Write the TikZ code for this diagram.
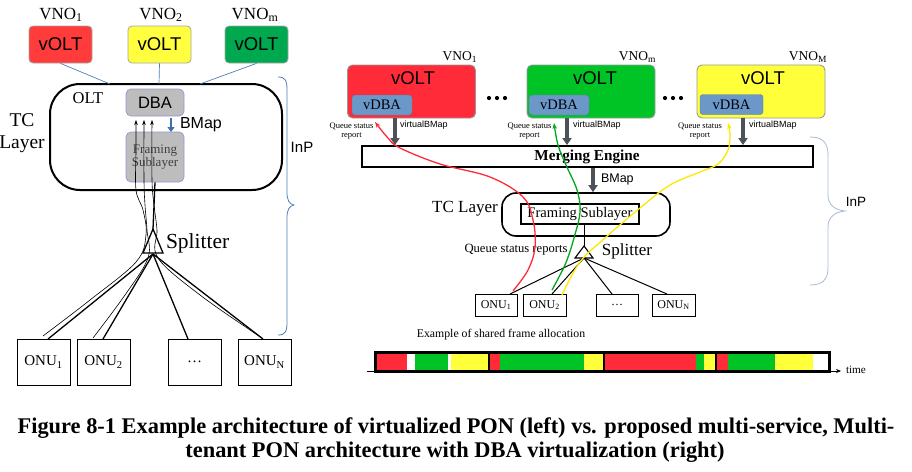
\documentclass[tikz,border=0pt]{standalone}
\usepackage{fontspec}
\setmainfont{Liberation Serif}
\setsansfont{Liberation Sans}
\usetikzlibrary{arrows.meta}
\definecolor{lred}{HTML}{FF3B3B}
\definecolor{lyel}{HTML}{FFFF40}
\definecolor{lgrn}{HTML}{00A84F}
\definecolor{rred}{HTML}{FF2B38}
\definecolor{rgrn}{HTML}{00C425}
\definecolor{ryel}{HTML}{FFFF3A}
\definecolor{vdba}{HTML}{6B97C9}
\definecolor{dbagray}{HTML}{BDBDBD}
\definecolor{dgray}{HTML}{4D5259}
\definecolor{bline}{HTML}{4F7FB5}
\definecolor{lbrace}{HTML}{A9BAD8}
\definecolor{bmapblue}{HTML}{3F6FA8}
\newcommand\fs[1]{\fontsize{#1}{#1}\selectfont}
\newcommand\sbs[1]{\textsubscript{#1}}
\begin{document}
\begin{tikzpicture}[x=1pt,y=-1pt,
  txt/.style={inner sep=0pt,outer sep=0pt},
  voltl/.style={draw=gray!70,line width=0.8pt,rounded corners=4pt,minimum width=63pt,minimum height=37pt,inner sep=0pt,font=\sffamily\fs{18.5}},
  voltr/.style={draw=gray!80,line width=0.9pt,rounded corners=5pt,minimum width=128pt,minimum height=53pt,inner sep=0pt},
  vdbabox/.style={draw=vdba!80!black,line width=0.4pt,fill=vdba,rounded corners=3pt,minimum width=60pt,minimum height=20pt,inner sep=0pt,font=\fs{14.5}},
  onubox/.style={draw,line width=0.6pt,inner sep=0pt},
  gbox/.style={draw=gray!60!blue!60,line width=0.7pt,fill=dbagray,rounded corners=5pt,minimum width=58pt,inner sep=0pt},
  garrow/.style={draw=dgray,line width=3.5pt,-{Triangle[length=7pt,width=9pt]}},
  thinarr/.style={line width=0.6pt,-{Stealth[length=5pt,width=3.5pt]}},
  colarr/.style={line width=1.3pt,-{Stealth[length=6pt,width=4.5pt]}},
  fiber/.style={line width=1.3pt}
]
\useasboundingbox (0,0) rectangle (912,471);

%%%%%%%%%%%%%%%% LEFT %%%%%%%%%%%%%%%%
\node[txt,font=\fs{17}] (lv1) at (61,15) {VNO\sbs{1}};
\node[txt,font=\fs{17}] (lv2) at (161,15) {VNO\sbs{2}};
\node[txt,font=\fs{17}] (lvm) at (255,15) {VNO\sbs{m}};
\node[voltl,fill=lred] (lr) at (60.5,44.5) {vOLT};
\node[voltl,fill=lyel] (ly) at (159.5,44.5) {vOLT};
\node[voltl,fill=lgrn] (lg) at (256.5,44.5) {vOLT};

\node[draw,line width=2pt,rounded corners=30pt,minimum width=232pt,minimum height=106pt,inner sep=0pt] (olt) at (166,137) {};
\coordinate (o1) at (110,84);
\coordinate (o2) at (159,84);
\coordinate (o3) at (200,84);
\draw[bline,line width=0.7pt] (lr.south) -- (o1);
\draw[bline,line width=0.7pt] (ly.south) -- (o2);
\draw[bline,line width=0.7pt] (lg.south) -- (o3);

\node[txt,font=\fs{16.5}] (oltt) at (88,98) {OLT};
\node[txt,font=\fs{19.5},align=center] (tcl) at (22,133) {TC\\[2pt]Layer};

\node[gbox,minimum height=27pt,font=\sffamily\fs{16.5}] (dba) at (155,102.5) {DBA};
\node[gbox,minimum height=50pt,font=\fs{13},align=center,text=black!75] (fr) at (155,157) {Framing\\Sublayer};
\draw[bmapblue,line width=2.6pt,-{Triangle[length=5pt,width=7pt]}] (171,118) -- (171,132);
\node[txt,font=\sffamily\fs{16},anchor=west] (bmapl) at (180,125) {BMap};

% splitter
\coordinate (spa) at (153,229);
\coordinate (spb) at (153,254);
\draw[line width=1.3pt,fill=white] (spa) -- (163,253) -- (143,253) -- cycle;
\node[txt,font=\fs{21.5},anchor=west] (splt) at (166,243) {Splitter};
\draw[fiber] (fr.south) -- (spa);

% ONUs
\node[onubox,minimum width=53pt,minimum height=46pt,font=\fs{15}] (lo1) at (43.5,362) {ONU\sbs{1}};
\node[onubox,minimum width=53pt,minimum height=46pt,font=\fs{15}] (lo2) at (103.5,362) {ONU\sbs{2}};
\node[onubox,minimum width=53pt,minimum height=46pt,font=\fs{15}] (lo3) at (194.5,362) {…};
\node[onubox,minimum width=53pt,minimum height=46pt,font=\fs{15}] (lon) at (264.5,362) {ONU\sbs{N}};
\coordinate (t1) at (48,339);
\coordinate (t2) at (103,339);
\coordinate (t3) at (188,339);
\coordinate (tn) at (263,339);
\draw[fiber] (spb) -- (t1);
\draw[fiber] (spb) -- (t2);
\draw[fiber] (spb) -- (t3);
\draw[fiber] (spb) -- (tn);

% request arrows
\draw[thinarr] plot[smooth,tension=0.6] coordinates {(43,336) (90,300) (136,262) (146,235) (143,210) (136,190) (136,150) (136,120)};
\draw[thinarr] plot[smooth,tension=0.6] coordinates {(93,338) (125,295) (148,258) (147,230) (145,205) (144,180) (144,120)};
\draw[thinarr] plot[smooth,tension=0.6] coordinates {(259,336) (200,295) (158,258) (157,230) (154,205) (152,180) (152,120)};

% left brace
\draw[bline,line width=0.8pt] (278,77) .. controls (285,77) and (287,80) .. (287,90) -- (287,192) .. controls (287,200) and (289,204) .. (294,205) .. controls (289,206) and (287,210) .. (287,218) -- (287,322) .. controls (287,332) and (285,335) .. (278,335);
\node[txt,font=\sffamily\fs{15}] (inpl) at (302,147) {InP};

%%%%%%%%%%%%%%%% RIGHT %%%%%%%%%%%%%%%%
\node[voltr,fill=rred] (R1) at (411.5,91.5) {};
\node[voltr,fill=rgrn] (R2) at (591,91.5) {};
\node[voltr,fill=ryel] (R3) at (761,91.5) {};
\node[txt,font=\sffamily\fs{18.5}] (R1t) at (413,78) {vOLT};
\node[txt,font=\sffamily\fs{18.5}] (R2t) at (595,78) {vOLT};
\node[txt,font=\sffamily\fs{18.5}] (R3t) at (763,78) {vOLT};
\node[vdbabox] (D1) at (382,105) {vDBA};
\node[vdbabox] (D2) at (559,105) {vDBA};
\node[vdbabox,minimum width=63pt] (D3) at (731.5,104.5) {vDBA};
\node[txt,font=\fs{13.5},anchor=east] (V1) at (477,57) {VNO\sbs{1}};
\node[txt,font=\fs{13.5},anchor=east] (V2) at (656,57) {VNO\sbs{m}};
\node[txt,font=\fs{13.5},anchor=east] (V3) at (827,57) {VNO\sbs{M}};
\foreach \x in {489,497,505,665,673,681} \fill (\x,98) circle (2.1pt);

\node[txt,font=\fs{8.5},align=center] (Q1) at (351.5,131.5) {Queue status\\[0.5pt]report};
\node[txt,font=\fs{8.5},align=center] (Q2) at (529.5,131.5) {Queue status\\[0.5pt]report};
\node[txt,font=\fs{8.5},align=center] (Q3) at (700,131.5) {Queue status\\[0.5pt]report};

\node[draw,line width=1.8pt,fill=white,minimum width=451pt,minimum height=21pt,inner sep=0pt] (ME) at (587.5,156.5) {};
\node[txt,font=\bfseries\fs{15.2}] (MEt) at (587,156.5) {Merging Engine};

\draw[garrow] ([xshift=-16.5pt]R1.south) -- ([xshift=-16.5pt]R1.south |- ME.north);
\draw[garrow] ([xshift=-24pt]R2.south) -- ([xshift=-24pt]R2.south |- ME.north);
\draw[garrow] ([xshift=-18pt]R3.south) -- ([xshift=-18pt]R3.south |- ME.north);
\node[txt,font=\sffamily\fs{9},anchor=west] (vb1) at (400,125) {virtualBMap};
\node[txt,font=\sffamily\fs{9},anchor=west] (vb2) at (573,125) {virtualBMap};
\node[txt,font=\sffamily\fs{9},anchor=west] (vb3) at (749,125) {virtualBMap};

\node[draw,line width=1.6pt,rounded corners=14pt,minimum width=168pt,minimum height=43pt,inner sep=0pt] (TC) at (586,214.5) {};
\draw[garrow] (ME.south -| 593,0) -- (TC.north -| 593,0);
\node[txt,font=\sffamily\fs{12.5},anchor=west] (bmr) at (601,179) {BMap};
\node[draw,line width=1.1pt,fill=white,minimum width=118pt,minimum height=20pt,inner sep=0pt,font=\fs{14.6}] (FR) at (580,214) {Framing Sublayer};
\node[txt,font=\fs{17}] (TCt) at (465,209) {TC Layer};

\coordinate (rsa) at (584,246);
\coordinate (rsb) at (584,258);
\draw[line width=0.9pt] (FR.south -| rsa) -- (rsa);
\draw[line width=1.1pt,fill=white] (rsa) -- (593,258) -- (575,258) -- cycle;
\node[txt,font=\fs{17}] (splr) at (627,251) {Splitter};
\node[txt,font=\fs{12.6}] (qsr) at (516,250) {Queue status reports};

\node[onubox,minimum width=42pt,minimum height=22pt,font=\fs{12}] (ro1) at (496,305) {ONU\sbs{1}};
\node[onubox,minimum width=43pt,minimum height=22pt,font=\fs{12}] (ro2) at (544.5,305) {ONU\sbs{2}};
\node[onubox,minimum width=42pt,minimum height=22pt,font=\fs{12}] (ro3) at (617,305) {…};
\node[onubox,minimum width=43pt,minimum height=22pt,font=\fs{12}] (ron) at (673.5,305) {ONU\sbs{N}};
\coordinate (u1) at (510,294);
\coordinate (u2) at (552,294);
\coordinate (u3) at (612,294);
\coordinate (un) at (667,294);
\draw[line width=1pt] (rsb) -- (u1);
\draw[line width=1pt] (rsb) -- (u2);
\draw[line width=1pt] (rsb) -- (u3);
\draw[line width=1pt] (rsb) -- (un);

% coloured report paths
\draw[colarr,draw=rred] plot[smooth,tension=0.6] coordinates {(513,291) (528,270) (535,247) (533,220) (523,197) (490,177) (440,164) (400,148) (388,138) (375,122)};
\draw[colarr,draw=rgrn!85!black] plot[smooth,tension=0.6] coordinates {(552,290) (560,275) (567,260) (574,238) (580,212) (577,190) (566,165) (558,145) (554,123)};
\draw[colarr,draw=yellow!90!orange] plot[smooth,tension=0.6] coordinates {(562,295) (580,262) (605,238) (640,208) (670,185) (700,172) (718,164) (728,150) (730,135) (728,123)};

% right brace
\draw[lbrace,line width=0.8pt] (810,137) .. controls (822,137) and (828,142) .. (828,155) -- (828,195) .. controls (828,205) and (835,210) .. (845,211) .. controls (835,212) and (828,217) .. (828,227) -- (828,268) .. controls (828,280) and (822,285) .. (810,285);
\node[txt,font=\sffamily\fs{13.5}] (inpr) at (856,202) {InP};

% frame allocation
\node[txt,font=\fs{11.8}] (ex) at (501,335) {Example of shared frame allocation};
\coordinate (ta) at (367,371);
\coordinate (tb) at (841,371);
\draw[line width=0.6pt,-{Stealth[length=5pt,width=4pt]}] (ta) -- (tb);
\node[txt,font=\fs{11.2},anchor=west] (tm) at (846,370) {time};
\begin{scope}
\fill[rred] (377,353) rectangle (407,371);
\fill[white] (407,353) rectangle (415,371);
\fill[rgrn] (415,353) rectangle (448,371);
\fill[white] (448,353) rectangle (451,371);
\fill[ryel] (451,353) rectangle (489,371);
\fill[rred] (489,353) rectangle (500,371);
\fill[rgrn] (500,353) rectangle (584,371);
\fill[ryel] (584,353) rectangle (604,371);
\fill[rred] (604,353) rectangle (696,371);
\fill[rgrn] (696,353) rectangle (704,371);
\fill[ryel] (704,353) rectangle (716,371);
\fill[rred] (716,353) rectangle (728,371);
\fill[rgrn] (728,353) rectangle (775,371);
\fill[ryel] (775,353) rectangle (813,371);
\fill[white] (813,353) rectangle (829,371);
\end{scope}
\node[draw,line width=2.6pt,minimum width=454pt,minimum height=19pt,inner sep=0pt] (bar) at (602.5,362) {};
\foreach \x in {489,604,716} \draw[line width=2.6pt] (\x,352) -- (\x,372);

% caption
\node[txt,font=\bfseries\fs{22.4}] (cap1) at (456,428) {Figure 8-1 Example architecture of virtualized PON (left) vs. proposed multi-service, Multi-};
\node[txt,font=\bfseries\fs{22.4}] (cap2) at (455,452) {tenant PON architecture with DBA virtualization (right)};
\end{tikzpicture}
\end{document}
